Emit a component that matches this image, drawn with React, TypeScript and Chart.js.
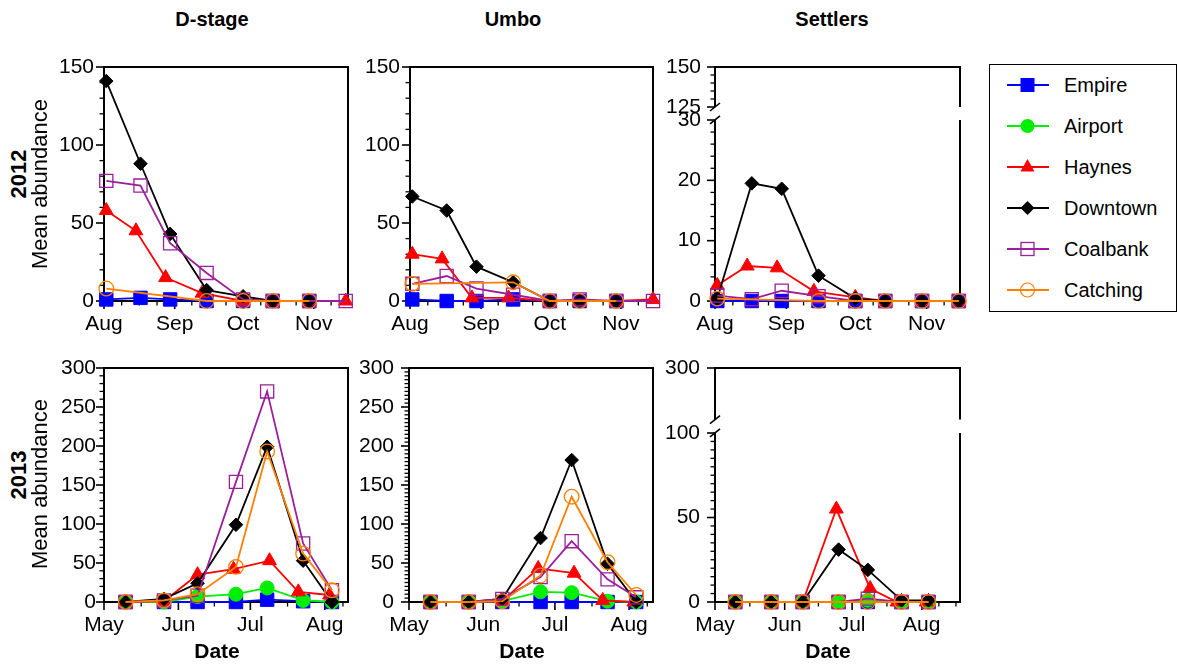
import React, { useEffect, useRef } from 'react';
import { Chart, registerables } from 'chart.js';

Chart.register(...registerables);

const FONT = '"Liberation Sans", Arial, Helvetica, sans-serif';

// ---------------- data ----------------
const SITES = ['Empire', 'Airport', 'Haynes', 'Downtown', 'Coalbank', 'Catching'];

const MONTH_OFFSETS = [0, 31, 61, 92];
const MONTHS_2012 = ['Aug', 'Sep', 'Oct', 'Nov'];
const MONTHS_2013 = ['May', 'Jun', 'Jul', 'Aug'];

// sampling days (days since Aug 1 2012 / May 1 2013)
const DAYS_2012 = [1, 16, 29, 45, 61, 74, 90, 106];
const DAYS_2012_HAYNES = [1, 14, 27, 43, 61, 74, 90, 106];
const DAYS_2013 = [9, 25, 39, 55, 68, 83, 95];
const DAYS_2013_HAYNES = [9, 25, 39, 54, 69, 81, 94];

const N = null;
// rows follow SITES order
const DSTAGE_2012 = [
  [1, 2, 1, 0, 0, 0, 0, N],
  [N, N, N, N, N, N, N, N],
  [58, 45, 15, 5, 0, 0, 0, 0],
  [141, 88, 43, 7, 3, 0, 0, N],
  [77, 74, 37, 18, 1, 0, 0, 0],
  [8, N, N, 0, 0, 0, 0, N],
];
const UMBO_2012 = [
  [1, 0, 0, 1, 0, 0, 0, N],
  [N, N, N, N, N, N, N, N],
  [30, 27, 2, 2, 0, 0, 0, 1],
  [67, 58, 22, 12, 0, 0, 0, N],
  [11, 16, 8, 4, 0, 1, 0, 0],
  [11, N, N, 12, 0, 0, 0, N],
];
const SETTLERS_2012 = [
  [0, 0, 0, 0, 0, 0, 0, 0],
  [N, N, N, N, N, N, N, N],
  [2.6, 5.8, 5.5, 1.6, 0.6, 0, 0, 0],
  [0.4, 19.5, 18.6, 4.2, 0.4, 0, 0, 0],
  [0.9, 0.3, 1.7, 0.8, 0, 0, 0, 0],
  [0.4, N, N, 0, 0, 0, 0, 0],
];
const DSTAGE_2013 = [
  [0, 0, 0, 0, 3, 1, 0],
  [0, 0, 7, 10, 18, 2, 0],
  [0, 1, 35, 42, 53, 13, 9],
  [0, 4, 24, 99, 199, 53, 0],
  [0, 2, 8, 154, 270, 75, 15],
  [0, 2, 10, 45, 193, 62, 15],
];
const UMBO_2013 = [
  [0, 0, 0, 0, 0, 0, 0],
  [0, 0, 1, 13, 12, 1, 0],
  [0, 0, 1, 43, 37, 2, 0],
  [0, 0, 4, 82, 182, 49, 0],
  [0, 0, 4, 32, 78, 29, 6],
  [0, 0, 1, 34, 135, 51, 9],
];
const SETTLERS_2013 = [
  [0, 0, 0, 0, 0, 0, 0],
  [0, 0, 0, 0, 1, 0, 0],
  [0, 0, 0, 55, 8, 0, 0],
  [0, 0, 0, 31, 19, 1, 1],
  [0, 0, 0, 0, 2, 0, 0],
  [0, 0, 0, 0, 0, 0, 0],
];

const Y_TICKS_150 = [0, 50, 100, 150];
const Y_TICKS_300 = [0, 50, 100, 150, 200, 250, 300];
const Y_TICKS_S2012_LOW = [0, 10, 20, 30];
const Y_TICKS_S2012_HIGH = [125, 150];
const Y_TICKS_S2013_LOW = [0, 50, 100];
const Y_TICKS_S2013_HIGH = [300];

// ---------------- styles ----------------
const COLORS = ['#0000FF', '#00EE00', '#FF0000', '#000000', '#9B1F9B', '#FF8000'];
const MARKERS = ['rect', 'circle', 'triangle', 'rectRot', 'rect', 'circle'];
const FILLED = [true, true, true, true, false, false];
const RADII = [9.5, 7, 8, 6.8, 9.3, 7.3];

const LPAD = 60;
const RPAD = 12;
const TPAD = 12;
const BPAD = 40;

type Seg = { id: string; major: number[]; minor: number | null; from: number; to: number };

function makeFramePlugin(cfg: any) {
  return {
    id: 'frame',
    beforeDatasetsDraw(chart: any) {
      const { ctx, chartArea: a, scales } = chart;
      const L = a.left, R = a.right, T = a.top, B = a.bottom;
      ctx.save();
      ctx.strokeStyle = '#000';
      const seg = (x1: number, y1: number, x2: number, y2: number) => {
        ctx.beginPath();
        ctx.moveTo(x1, y1);
        ctx.lineTo(x2, y2);
        ctx.stroke();
      };
      ctx.lineWidth = 1.3;
      for (const s of cfg.ySegs as Seg[]) {
        const sc = scales[s.id];
        if (s.minor) {
          for (let v = s.from; v <= s.to + 1e-6; v += s.minor) {
            const isMajor = s.major.some((m) => Math.abs(m - v) < 1e-6);
            if (!isMajor) {
              const p = sc.getPixelForValue(v);
              seg(L - 4.5, p, L, p);
            }
          }
        }
        ctx.lineWidth = 1.6;
        for (const m of s.major) {
          const p = sc.getPixelForValue(m);
          seg(L - 8, p, L, p);
        }
        ctx.lineWidth = 1.3;
      }
      const xs = scales.x;
      for (const v of cfg.xMinor as number[]) {
        const p = xs.getPixelForValue(v);
        seg(p, B, p, B + 4.5);
      }
      ctx.lineWidth = 1.6;
      for (const v of MONTH_OFFSETS) {
        const p = xs.getPixelForValue(v);
        seg(p, B, p, B + 8);
      }
      ctx.lineWidth = 2;
      if (cfg.gap) {
        const g1 = scales.yTop.getPixelForValue(cfg.gap[0]);
        const g2 = scales.y.getPixelForValue(cfg.gap[1]);
        seg(L, T - 1, L, g1);
        seg(L, g2, L, B + 1);
        seg(R, T - 1, R, g1);
        seg(R, g2, R, B + 1);
        seg(L - 1, T, R + 1, T);
        seg(L - 1, B, R + 1, B);
        ctx.lineWidth = 1.6;
        seg(L - 5, g1 + 4, L + 5, g1 - 4);
        seg(L - 5, g2 + 4, L + 5, g2 - 4);
      } else {
        ctx.strokeRect(L, T, R - L, B - T);
      }
      ctx.restore();
    },
  };
}

function xMinorTicks(max: number) {
  const out: number[] = [];
  for (let i = 0; i < MONTH_OFFSETS.length - 1; i++) {
    const a = MONTH_OFFSETS[i];
    const b = MONTH_OFFSETS[i + 1];
    for (let k = 1; k < 4; k++) out.push(a + ((b - a) * k) / 4);
  }
  const last = MONTH_OFFSETS[MONTH_OFFSETS.length - 1];
  for (let v = last + 7.6; v <= max + 0.01; v += 7.6) out.push(v);
  return out;
}

function zeroPadding(s: any) {
  s.paddingTop = 0;
  s.paddingBottom = 0;
  s.paddingLeft = 0;
  s.paddingRight = 0;
}

type YAxis = { min: number; max: number; major: number[]; minor: number | null; from: number; to: number; weight?: number };

type PanelSpec = {
  plot: [number, number, number, number];
  xMax: number;
  months: string[];
  days: number[];
  haynesDays: number[];
  values: (number | null)[][];
  yPad: number;
  low: YAxis;
  high?: YAxis;
  gap?: [number, number];
};

function yScale(ax: YAxis, yPad: number, extra: any) {
  return {
    type: 'linear',
    position: 'left',
    min: ax.min,
    max: ax.max,
    grid: { display: false, drawTicks: false },
    border: { display: false },
    afterBuildTicks: (s: any) => {
      s.ticks = ax.major.map((v) => ({ value: v }));
    },
    afterFit: (s: any) => {
      s.width = LPAD;
      zeroPadding(s);
    },
    ticks: {
      autoSkip: false,
      padding: yPad,
      color: '#000',
      font: { family: FONT, size: 21 },
    },
    ...extra,
  };
}

function buildConfig(spec: PanelSpec) {
  const datasets = SITES.map((name, i) => {
    const days = i === 2 ? spec.haynesDays : spec.days;
    const pts = days
      .map((d, k) => ({ x: d, y: spec.values[i][k] }))
      .filter((p) => p.y !== null && p.y !== undefined);
    return {
      label: name,
      data: pts,
      borderColor: COLORS[i],
      backgroundColor: FILLED[i] ? COLORS[i] : 'rgba(0,0,0,0)',
      pointBackgroundColor: FILLED[i] ? COLORS[i] : 'rgba(0,0,0,0)',
      pointBorderColor: COLORS[i],
      pointStyle: MARKERS[i],
      pointRadius: RADII[i],
      pointBorderWidth: FILLED[i] ? 1 : 1.3,
      borderWidth: 1.8,
      tension: 0,
      fill: false,
      clip: false,
      order: 6 - i,
      yAxisID: 'y',
    };
  });

  const scales: any = {
    x: {
      type: 'linear',
      min: 0,
      max: spec.xMax,
      grid: { display: false, drawTicks: false },
      border: { display: false },
      afterBuildTicks: (s: any) => {
        s.ticks = MONTH_OFFSETS.map((v) => ({ value: v }));
      },
      afterFit: (s: any) => {
        s.height = BPAD;
        zeroPadding(s);
      },
      ticks: {
        autoSkip: false,
        maxRotation: 0,
        padding: 11,
        color: '#000',
        font: { family: FONT, size: 21 },
        callback: (v: number) => spec.months[MONTH_OFFSETS.indexOf(v)] ?? '',
      },
    },
  };
  const ySegs: Seg[] = [
    { id: 'y', major: spec.low.major, minor: spec.low.minor, from: spec.low.from, to: spec.low.to },
  ];
  if (spec.high) {
    scales.y = yScale(spec.low, spec.yPad, { stack: 'sy', stackWeight: spec.low.weight });
    scales.yTop = yScale(spec.high, spec.yPad, { stack: 'sy', stackWeight: spec.high.weight });
    ySegs.push({ id: 'yTop', major: spec.high.major, minor: spec.high.minor, from: spec.high.from, to: spec.high.to });
  } else {
    scales.y = yScale(spec.low, spec.yPad, {});
  }

  return {
    type: 'line',
    data: { datasets },
    options: {
      responsive: false,
      animation: false,
      events: [],
      layout: { autoPadding: false, padding: { left: 0, top: TPAD, right: RPAD, bottom: 0 } },
      plugins: { legend: { display: false }, tooltip: { enabled: false } },
      scales,
    },
    plugins: [makeFramePlugin({ ySegs, xMinor: xMinorTicks(spec.xMax), gap: spec.gap })],
  };
}

const PANELS: PanelSpec[] = [
  {
    plot: [104, 67, 244, 234], xMax: 107, months: MONTHS_2012, days: DAYS_2012, haynesDays: DAYS_2012_HAYNES,
    values: DSTAGE_2012, yPad: 10,
    low: { min: 0, max: 150, major: Y_TICKS_150, minor: 10, from: 0, to: 150 },
  },
  {
    plot: [410, 67, 243, 234], xMax: 106, months: MONTHS_2012, days: DAYS_2012, haynesDays: DAYS_2012_HAYNES,
    values: UMBO_2012, yPad: 10,
    low: { min: 0, max: 150, major: Y_TICKS_150, minor: 10, from: 0, to: 150 },
  },
  {
    plot: [715, 67, 245, 234], xMax: 106.5, months: MONTHS_2012, days: DAYS_2012, haynesDays: DAYS_2012_HAYNES,
    values: SETTLERS_2012, yPad: 14,
    low: { min: 0, max: 31.16, major: Y_TICKS_S2012_LOW, minor: 2, from: 0, to: 30, weight: 188 },
    high: { min: 121.25, max: 150, major: Y_TICKS_S2012_HIGH, minor: 5, from: 125, to: 150, weight: 46 },
    gap: [125, 30],
  },
  {
    plot: [104, 368, 244, 234], xMax: 101.7, months: MONTHS_2013, days: DAYS_2013, haynesDays: DAYS_2013_HAYNES,
    values: DSTAGE_2013, yPad: 8,
    low: { min: 0, max: 300, major: Y_TICKS_300, minor: 10, from: 0, to: 300 },
  },
  {
    plot: [409, 368, 244, 234], xMax: 102, months: MONTHS_2013, days: DAYS_2013, haynesDays: DAYS_2013_HAYNES,
    values: UMBO_2013, yPad: 15,
    low: { min: 0, max: 300, major: Y_TICKS_300, minor: 5, from: 0, to: 300 },
  },
  {
    plot: [715, 368, 245, 234], xMax: 109, months: MONTHS_2013, days: DAYS_2013, haynesDays: DAYS_2013_HAYNES,
    values: SETTLERS_2013, yPad: 15,
    low: { min: 0, max: 103.55, major: Y_TICKS_S2013_LOW, minor: 5, from: 0, to: 100, weight: 175 },
    high: { min: 265.7, max: 300, major: Y_TICKS_S2013_HIGH, minor: null, from: 300, to: 300, weight: 59 },
    gap: [270, 100],
  },
];

function Panel({ spec }: { spec: PanelSpec }) {
  const ref = useRef<HTMLCanvasElement>(null);
  useEffect(() => {
    const chart = new Chart(ref.current as HTMLCanvasElement, buildConfig(spec) as any);
    return () => chart.destroy();
  }, [spec]);
  const [l, t, w, h] = spec.plot;
  return (
    <canvas
      ref={ref}
      width={w + LPAD + RPAD}
      height={h + TPAD + BPAD}
      style={{ position: 'absolute', left: l - LPAD, top: t - TPAD, width: w + LPAD + RPAD, height: h + TPAD + BPAD }}
    />
  );
}

function Label({ text, x, y, size, bold, rotate, left }: { text: string; x: number; y: number; size: number; bold?: boolean; rotate?: boolean; left?: boolean }) {
  return (
    <div
      style={{
        position: 'absolute',
        left: x,
        top: y,
        transform: `translate(${left ? '0' : '-50%'}, -50%)${rotate ? ' rotate(-90deg)' : ''}`,
        fontFamily: FONT,
        fontSize: size,
        fontWeight: bold ? 'bold' : 'normal',
        lineHeight: `${size}px`,
        whiteSpace: 'nowrap',
        color: '#000',
      }}
    >
      {text}
    </div>
  );
}

function LegendMarker({ i }: { i: number }) {
  const c = COLORS[i];
  const cx = 20.5;
  const cy = 10;
  let m: any = null;
  if (i === 0) m = <rect x={cx - 7} y={cy - 7} width={14} height={14} fill={c} />;
  if (i === 1) m = <circle cx={cx} cy={cy} r={7} fill={c} />;
  if (i === 2) m = <polygon points={`${cx},${cy - 8} ${cx + 7},${cy + 4.5} ${cx - 7},${cy + 4.5}`} fill={c} />;
  if (i === 3) m = <polygon points={`${cx},${cy - 7} ${cx + 7},${cy} ${cx},${cy + 7} ${cx - 7},${cy}`} fill={c} />;
  if (i === 4) m = <rect x={cx - 6.5} y={cy - 6.5} width={13} height={13} fill="none" stroke={c} strokeWidth={1.3} />;
  if (i === 5) m = <circle cx={cx} cy={cy} r={7} fill="none" stroke={c} strokeWidth={1.2} />;
  return (
    <svg width={42} height={20} style={{ position: 'absolute', left: 1007, top: 85 + 41 * i - 10 }}>
      <line x1={0} y1={cy} x2={42} y2={cy} stroke={c} strokeWidth={1.8} />
      {m}
    </svg>
  );
}

export default function App() {
  return (
    <div style={{ position: 'absolute', left: 0, top: 0, width: 1180, height: 664, background: '#fff', overflow: 'hidden' }}>
      {PANELS.map((p, i) => (
        <Panel key={i} spec={p} />
      ))}
      <Label text="D-stage" x={212} y={19} size={20} bold />
      <Label text="Umbo" x={513} y={19} size={20} bold />
      <Label text="Settlers" x={832} y={19} size={20} bold />
      <Label text="2012" x={19} y={174} size={22} bold rotate />
      <Label text="Mean abundance" x={40} y={184} size={22} rotate />
      <Label text="2013" x={19} y={475} size={22} bold rotate />
      <Label text="Mean abundance" x={40} y={484} size={22} rotate />
      <Label text="Date" x={217} y={650} size={21} bold />
      <Label text="Date" x={522} y={650} size={21} bold />
      <Label text="Date" x={828} y={650} size={21} bold />
      <div style={{ position: 'absolute', left: 989, top: 64, width: 186, height: 246, border: '1.5px solid #000' }} />
      {SITES.map((s, i) => (
        <React.Fragment key={s}>
          <LegendMarker i={i} />
          <Label text={s} x={1064} y={85 + 41 * i} size={20} left />
        </React.Fragment>
      ))}
    </div>
  );
}
